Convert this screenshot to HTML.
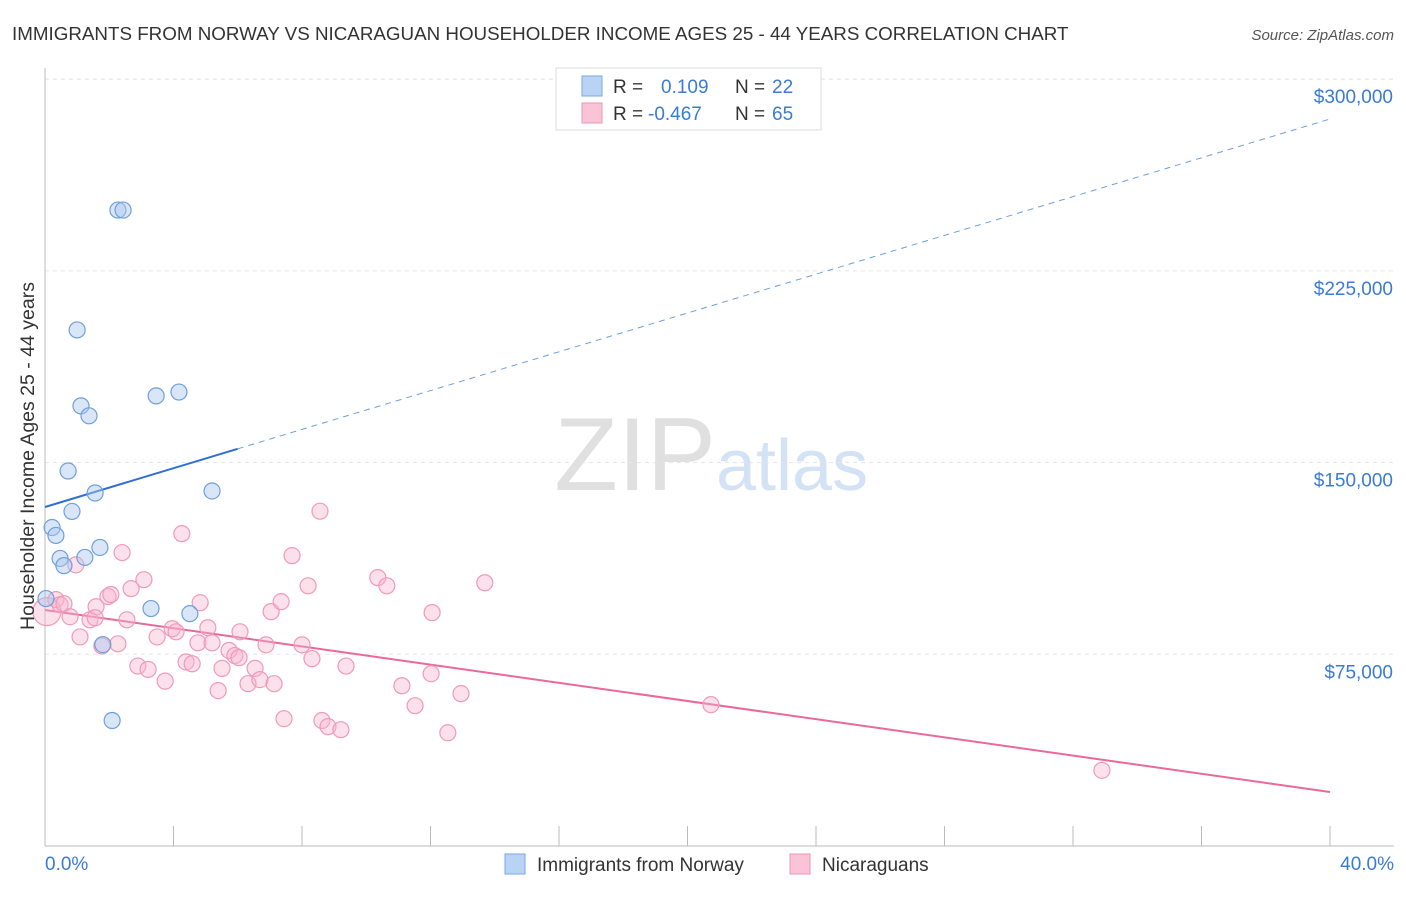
<!DOCTYPE html>
<html><head><meta charset="utf-8"><style>
body{margin:0;background:#fff;font-family:"Liberation Sans",sans-serif;}
svg text{font-family:"Liberation Sans",sans-serif;}
</style></head><body>
<svg id="chart" width="1406" height="892">
<text x="12" y="40" font-size="18.8" fill="#333">IMMIGRANTS FROM NORWAY VS NICARAGUAN HOUSEHOLDER INCOME AGES 25 - 44 YEARS CORRELATION CHART</text>
<text x="1394" y="40" font-size="15" fill="#555" text-anchor="end" font-style="italic">Source: ZipAtlas.com</text>
<text x="716" y="490" font-size="104" fill="#e0e0e0" text-anchor="end" font-family="Liberation Serif">ZIP</text>
<text x="716" y="490" font-size="72" fill="#d3e2f4">atlas</text>
<g id="grid"></g><g id="axes"></g><g id="trend"></g><g id="pts"></g>
<text transform="translate(34,456) rotate(-90)" font-size="19.5" fill="#333" text-anchor="middle">Householder Income Ages 25 - 44 years</text>
<g>
<rect x="556" y="68" width="265" height="62" fill="#fff" stroke="#ddd"/>
<rect x="582" y="76" width="20" height="20" fill="#b9d3f5" stroke="#7aa7e0"/>
<rect x="582" y="103" width="20" height="20" fill="#fbc4d6" stroke="#ee95b4"/>
<text x="613" y="93" font-size="19" fill="#333">R = </text><text x="661" y="93" font-size="19" fill="#3a7bd5">0.109</text>
<text x="735" y="93" font-size="19" fill="#333">N = </text><text x="772" y="93" font-size="19" fill="#3a7bd5">22</text>
<text x="613" y="120" font-size="19" fill="#333">R = </text><text x="648" y="120" font-size="19" fill="#3a7bd5">-0.467</text>
<text x="735" y="120" font-size="19" fill="#333">N = </text><text x="772" y="120" font-size="19" fill="#3a7bd5">65</text>
</g>
<g>
<rect x="505" y="854" width="20" height="20" fill="#b9d3f5" stroke="#7aa7e0"/>
<text x="537" y="871" font-size="19" fill="#333">Immigrants from Norway</text>
<rect x="790" y="854" width="20" height="20" fill="#fbc4d6" stroke="#ee95b4"/>
<text x="822" y="871" font-size="19" fill="#333">Nicaraguans</text>
</g>
</svg>
<script>
const xTicks=[0,4,8,12,16,20,24,28,32,36,40];
const yTicks=[75000,150000,225000,300000];
const yTickLabels=["$75,000","$150,000","$225,000","$300,000"];
const blueX=[2.27,2.43,1.00,1.12,1.37,3.46,4.17,0.72,1.56,5.20,0.84,0.22,0.34,0.47,1.24,1.71,0.59,0.03,3.30,4.51,1.80,2.09];
const blueY=[248800,248800,201900,172200,168300,176100,177600,146700,138100,138900,130900,124600,121500,112500,112900,116800,109700,96800,92900,90900,78800,49100];
const pinkX=[0.06,0.34,0.47,0.59,0.78,0.96,1.09,1.40,1.59,1.77,1.96,2.05,2.27,2.40,2.55,2.68,2.89,3.08,3.21,3.49,3.74,3.96,4.08,4.26,4.39,4.58,4.83,4.76,5.07,5.20,5.39,5.51,5.73,5.91,6.07,6.04,6.32,6.54,6.69,6.88,7.04,7.13,7.35,7.44,7.69,8.00,8.19,8.31,8.56,8.62,8.81,9.21,9.37,10.36,10.64,11.11,11.52,12.02,12.05,12.54,12.95,13.69,20.73,32.90,1.56];
const pinkY=[91700,96400,94400,94800,89700,110000,81800,88500,93600,78300,97600,98400,79100,114800,88500,100700,70400,104200,69100,81800,64500,85000,83800,122200,72000,71300,95200,79500,85400,79500,60800,69500,76500,74500,83800,73700,63500,69500,65100,78700,91700,63500,95600,49800,113600,78700,101800,73300,131000,49100,46700,45500,70400,105000,101800,62700,54900,67400,91300,44300,59600,103000,55300,29600,89300];
const blueTrend=[132630,284430];
const pinkTrend=[92330,21130];
const X=v=>45+v/40*1285, Y=v=>846-v/75000*191.7;
const ns="http://www.w3.org/2000/svg";
function mk(parent,tag,attrs){const e=document.createElementNS(ns,tag);for(const k in attrs)e.setAttribute(k,attrs[k]);document.getElementById(parent).appendChild(e);return e;}
yTicks.forEach((t,i)=>{
 const l=mk('grid','line',{x1:45,x2:1394,y1:Y(t),y2:Y(t),stroke:'#e5e5e5','stroke-dasharray':'4,4'});
 
 
 const tx=mk('grid','text',{x:1393,y:Y(t)+24,'font-size':19,fill:'#3a7bd5','text-anchor':'end'});tx.textContent=yTickLabels[i];
 
 
});
const tl=mk('grid','line',{x1:45,x2:1394,y1:79,y2:79,stroke:'#e5e5e5','stroke-dasharray':'4,4'});


mk('axes','line',{x1:45,x2:45,y1:68,y2:846,stroke:'#bbb'});
mk('axes','line',{x1:45,x2:1394,y1:846,y2:846,stroke:'#bbb'});
xTicks.forEach(t=>{const l=mk('axes','line',{x1:X(t),x2:X(t),y1:826,y2:846,stroke:'#bbb'});
 
 });
const a=mk('axes','text',{x:45,y:870,'font-size':19,fill:'#3a7bd5'});a.textContent='0.0%';


const b=mk('axes','text',{x:1394,y:870,'font-size':19,fill:'#3a7bd5','text-anchor':'end'});b.textContent='40.0%';


pinkX.forEach((x,i)=>{const c=mk('pts','circle',{cx:X(x),cy:Y(pinkY[i]),r:i==0?14:8,fill:'rgba(248,180,204,0.4)',stroke:'#ef9ab9','stroke-width':1.2});
 
 });
blueX.forEach((x,i)=>{const c=mk('pts','circle',{cx:X(x),cy:Y(blueY[i]),r:8,fill:'rgba(170,200,240,0.45)',stroke:'#6f9fdc','stroke-width':1.2});
 
 });
const bf=v=>blueTrend[0]+(blueTrend[1]-blueTrend[0])*v/40;
const pf=v=>pinkTrend[0]+(pinkTrend[1]-pinkTrend[0])*v/40;
const t1=mk('trend','line',{x1:X(0),y1:Y(bf(0)),x2:X(6),y2:Y(bf(6)),stroke:'#2f6fd3','stroke-width':2});


const t2=mk('trend','line',{x1:X(6),y1:Y(bf(6)),x2:X(40),y2:Y(bf(40)),stroke:'#6f9fdc','stroke-width':1,'stroke-dasharray':'6,5'});


const t3=mk('trend','line',{x1:X(0),y1:Y(pf(0)),x2:X(40),y2:Y(pf(40)),stroke:'#e8699a','stroke-width':2});


</script>
</body></html>
